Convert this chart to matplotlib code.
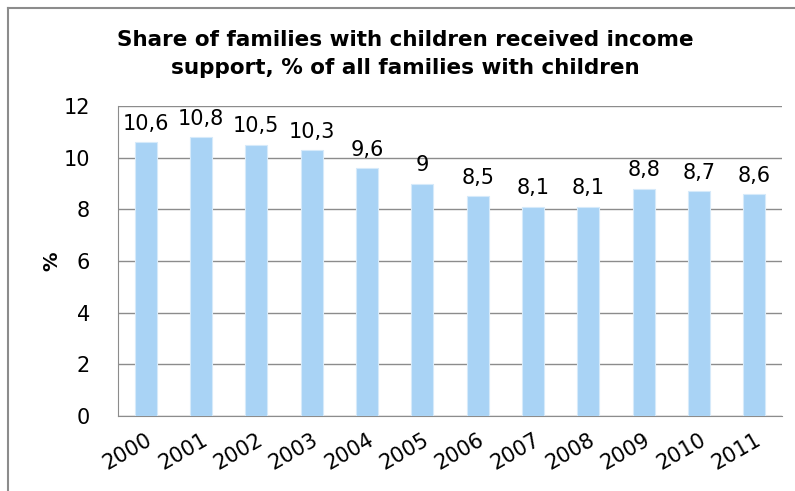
import matplotlib
matplotlib.use("Agg")
import matplotlib.pyplot as plt
from matplotlib.lines import Line2D

years = ["2000", "2001", "2002", "2003", "2004", "2005",
         "2006", "2007", "2008", "2009", "2010", "2011"]
shares = [10.6, 10.8, 10.5, 10.3, 9.6, 9.0, 8.5, 8.1, 8.1, 8.8, 8.7, 8.6]
yticks = [0, 2, 4, 6, 8, 10, 12]

plt.rcParams['font.family'] = ['DejaVu Sans']

W, H = 795, 491
fig = plt.figure(figsize=(W / 100, H / 100), dpi=100)
ax = fig.add_axes([118 / W, 1 - 416 / H, (782 - 118) / W, (416 - 106) / H])

x = list(range(len(years)))
bars = ax.bar(x, shares, width=0.4, color="#A9D3F5", edgecolor="#D6EAFA", linewidth=0.8, zorder=3)

# labels use a comma as decimal mark
labels = [("%g" % v).replace(".", ",") for v in shares]
ax.bar_label(bars, labels=labels, padding=6, fontsize=15)

ax.set_xlim(-0.5, len(years) - 0.5)
ax.set_ylim(0, 12)
ax.set_yticks(yticks)
ax.set_yticklabels([str(t) for t in yticks], fontsize=15)
ax.set_xticks(x)
ax.set_xticklabels(years, fontsize=15, rotation=30, ha="right", rotation_mode="anchor")
ax.tick_params(axis="x", length=0, pad=10)
ax.tick_params(axis="y", length=0, pad=20)

ax.yaxis.grid(True, color="#8C8C8C", linewidth=1.0, zorder=0)
for s in ["top", "right"]:
    ax.spines[s].set_visible(False)
ax.spines["left"].set_color("#8C8C8C")
ax.spines["bottom"].set_color("#8C8C8C")

ax.set_ylabel("%", fontsize=14, fontweight="bold", labelpad=2)

fig.text(405 / W, 1 - 54 / H,
         "Share of families with children received income\nsupport, % of all families with children",
         ha="center", va="center", fontsize=15.5, fontweight="bold", linespacing=1.5)

# outer chart frame (left and top edges visible)
fig.add_artist(Line2D([8 / W, 8 / W], [0, 1 - 8 / H], color="#8C8C8C", linewidth=1.5))
fig.add_artist(Line2D([8 / W, 1], [1 - 8 / H, 1 - 8 / H], color="#8C8C8C", linewidth=1.5))

fig.savefig("out.png", dpi=100)
